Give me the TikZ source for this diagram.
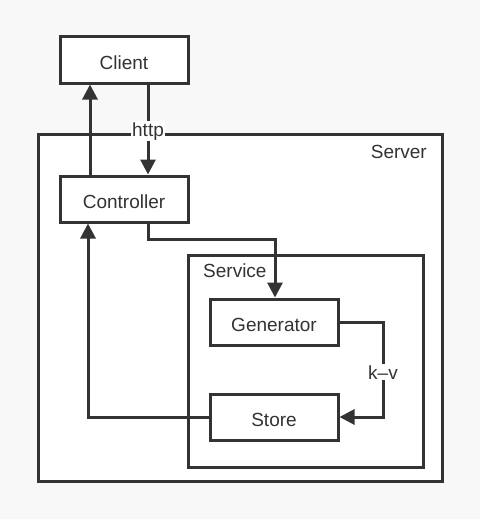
\documentclass[tikz,border=0pt]{standalone}
\usepackage{fontspec}
\setmainfont{Liberation Sans}
\usetikzlibrary{arrows.meta}
\definecolor{ink}{HTML}{333333}
\definecolor{bg}{HTML}{F8F8F8}
\tikzset{
  box/.style={draw=ink, line width=3pt, fill=white, minimum width=128pt, minimum height=46pt, inner sep=0pt, text height=19.5pt, text depth=0pt, font=\fontsize{19}{22}\selectfont, text=ink},
  frame/.style={draw=ink, line width=3pt, fill=white},
  conn/.style={draw=ink, line width=3pt, -{Triangle[length=15pt,width=15pt]}},
  lbl/.style={fill=white, inner sep=1pt, font=\fontsize{19}{22}\selectfont, text=ink},
  title/.style={inner sep=0pt, font=\fontsize{19}{22}\selectfont, text=ink},
}
\begin{document}
\begin{tikzpicture}[x=1pt,y=-1pt]
\fill[bg] (0,0) rectangle (480,519);
\useasboundingbox (0,0) rectangle (480,519);
\draw[frame] (38,134) rectangle (442,481);
\node[title, anchor=east] (srv) at (427,152) {Server};
\draw[frame] (188,255) rectangle (423,467);
\node[title, anchor=west] (svc) at (203,271) {Service};
\node[box] (client) at (124,60) {Client};
\node[box] (ctrl) at (124,199) {Controller};
\node[box] (gen) at (274,322) {Generator};
\node[box] (store) at (274,417) {Store};
\coordinate (c1) at (148,239);
\coordinate (c2) at (275,239);
\coordinate (g1) at (383,322);
\coordinate (g2) at (383,417);
\coordinate (s1) at (88,417);
\draw[conn] (ctrl.north -| 90,0) -- (client.south -| 90,0);
\draw[conn] (client.south -| 148,0) -- node[lbl, pos=0.52] (http) {http} (ctrl.north -| 148,0);
\draw[conn] (ctrl.south -| c1) -- (c1) -- (c2) -- (gen.north -| c2);
\draw[conn] (gen.east) -- (g1) -- node[lbl, pos=0.53] (kv) {k–v} (g2) -- (store.east);
\draw[conn] (store.west) -- (s1) -- (ctrl.south -| s1);
\end{tikzpicture}
\end{document}
